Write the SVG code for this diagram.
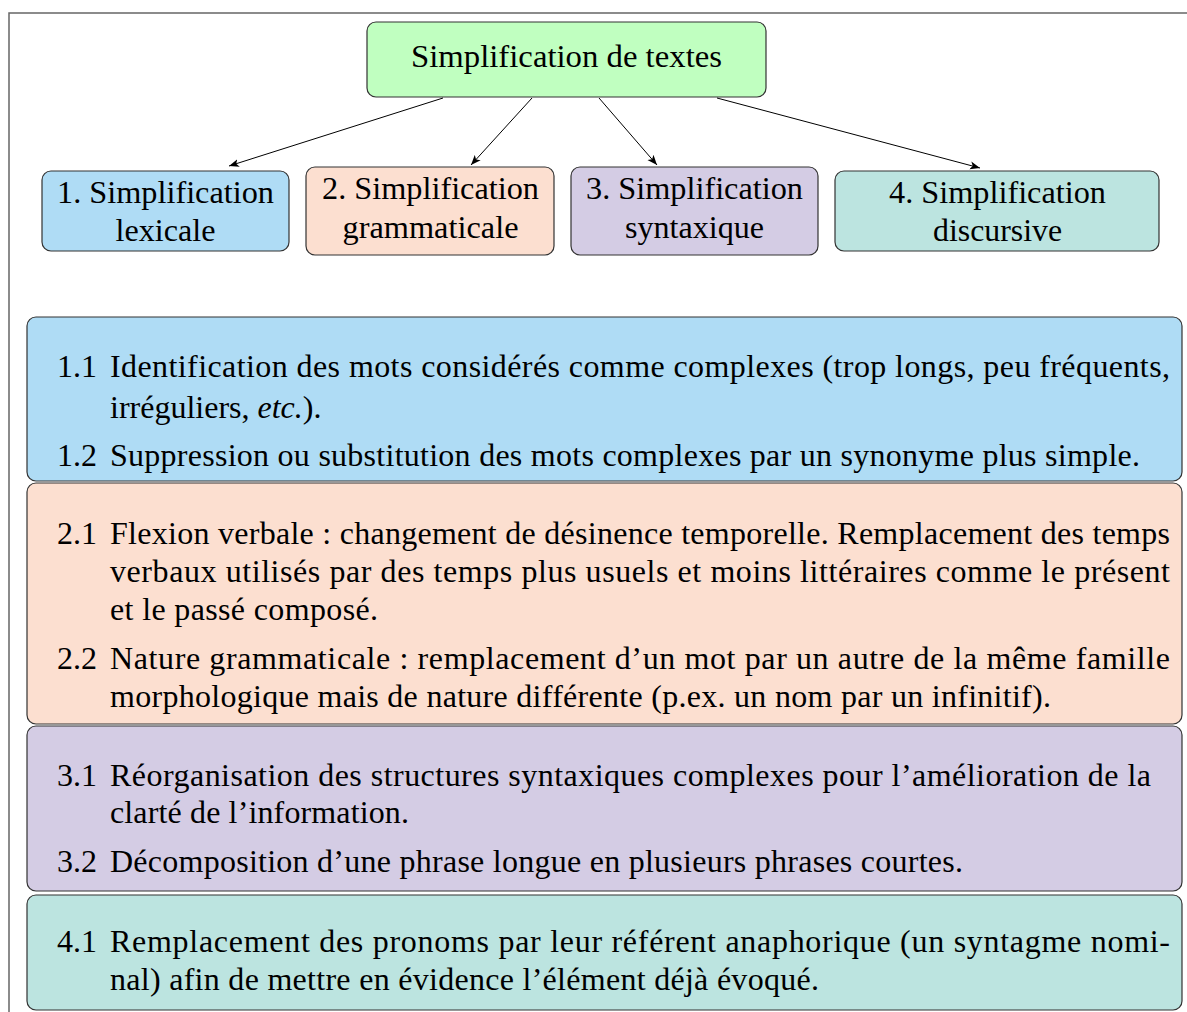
<svg xmlns="http://www.w3.org/2000/svg" width="1187" height="1012" viewBox="0 0 1187 1012" font-family="'Liberation Serif', 'Times New Roman', serif">
<style>
text{font-family:'Liberation Serif','Times New Roman',Times,serif;font-size:32px;fill:#000}
.box{stroke:#333;stroke-width:1.2}
.frame{stroke:#666;stroke-width:1.5;fill:none}
.edge{stroke:#000;stroke-width:1;fill:none;marker-end:url(#arr)}
.c{text-anchor:middle}
</style>
<defs>
<marker id="arr" viewBox="0 0 10 10" refX="10" refY="5" markerWidth="10" markerHeight="10" markerUnits="userSpaceOnUse" orient="auto">
<path d="M0,1 L10,5 L0,9 L2.5,5 Z" fill="#000"/>
</marker>
</defs>
<rect width="1187" height="1012" fill="#fff"/>
<path class="frame" d="M9,1012 V13 H1187"/>

<g id="root">
<rect class="box" x="367" y="22" width="399" height="75" rx="9" fill="#c0ffc0"/>
<text class="c" x="566.5" y="67" textLength="311" lengthAdjust="spacingAndGlyphs">Simplification de textes</text>
</g>

<g id="n1">
<rect class="box" x="42" y="171" width="247" height="80" rx="9" fill="#afdcf5"/>
<text class="c" x="165.5" y="203" textLength="217" lengthAdjust="spacingAndGlyphs">1. Simplification</text>
<text class="c" x="165.5" y="241" textLength="100" lengthAdjust="spacingAndGlyphs">lexicale</text>
</g>
<g id="n2">
<rect class="box" x="306" y="167" width="248" height="88" rx="9" fill="#fcdfd0"/>
<text class="c" x="430.5" y="199" textLength="217" lengthAdjust="spacingAndGlyphs">2. Simplification</text>
<text class="c" x="430.5" y="238" textLength="176" lengthAdjust="spacingAndGlyphs">grammaticale</text>
</g>
<g id="n3">
<rect class="box" x="571" y="167" width="247" height="88" rx="9" fill="#d4cce4"/>
<text class="c" x="694.5" y="199" textLength="217" lengthAdjust="spacingAndGlyphs">3. Simplification</text>
<text class="c" x="694.5" y="238" textLength="139" lengthAdjust="spacingAndGlyphs">syntaxique</text>
</g>
<g id="n4">
<rect class="box" x="835" y="171" width="324" height="80" rx="9" fill="#bce4e0"/>
<text class="c" x="997.5" y="203" textLength="217" lengthAdjust="spacingAndGlyphs">4. Simplification</text>
<text class="c" x="997.5" y="241" textLength="129" lengthAdjust="spacingAndGlyphs">discursive</text>
</g>

<g id="connectors">
<line class="edge" x1="443" y1="98" x2="229" y2="166"/>
<line class="edge" x1="532" y1="98" x2="471" y2="165"/>
<line class="edge" x1="599" y1="98" x2="657" y2="165"/>
<line class="edge" x1="717" y1="98" x2="980" y2="168"/>
</g>

<g id="d1">
<rect class="box" x="27" y="317" width="1155" height="164" rx="9" fill="#afdcf5"/>
<text x="57" y="377">1.1</text>
<text x="110" y="377" textLength="1060" lengthAdjust="spacing">Identification des mots considérés comme complexes (trop longs, peu fréquents,</text>
<text x="110" y="418">irréguliers, <tspan font-style="italic">etc.</tspan>).</text>
<text x="57" y="466">1.2</text>
<text x="110" y="466" textLength="1030" lengthAdjust="spacing">Suppression ou substitution des mots complexes par un synonyme plus simple.</text>
</g>

<g id="d2">
<rect class="box" x="27" y="483" width="1155" height="241" rx="9" fill="#fcdfd0"/>
<text x="57" y="544">2.1</text>
<text x="110" y="544" textLength="1060" lengthAdjust="spacing">Flexion verbale : changement de désinence temporelle. Remplacement des temps</text>
<text x="110" y="582" textLength="1060" lengthAdjust="spacing">verbaux utilisés par des temps plus usuels et moins littéraires comme le présent</text>
<text x="110" y="620" textLength="268" lengthAdjust="spacing">et le passé composé.</text>
<text x="57" y="669">2.2</text>
<text x="110" y="669" textLength="1060" lengthAdjust="spacing">Nature grammaticale : remplacement d’un mot par un autre de la même famille</text>
<text x="110" y="707" textLength="941" lengthAdjust="spacing">morphologique mais de nature différente (p.ex. un nom par un infinitif).</text>
</g>

<g id="d3">
<rect class="box" x="27" y="726" width="1155" height="165" rx="9" fill="#d4cce4"/>
<text x="57" y="786">3.1</text>
<text x="110" y="786" textLength="1041" lengthAdjust="spacing">Réorganisation des structures syntaxiques complexes pour l’amélioration de la</text>
<text x="110" y="823" textLength="299" lengthAdjust="spacing">clarté de l’information.</text>
<text x="57" y="872">3.2</text>
<text x="110" y="872" textLength="853" lengthAdjust="spacing">Décomposition d’une phrase longue en plusieurs phrases courtes.</text>
</g>

<g id="d4">
<rect class="box" x="27" y="895" width="1155" height="115" rx="9" fill="#bce4e0"/>
<text x="57" y="952">4.1</text>
<text x="110" y="952" textLength="1060" lengthAdjust="spacing">Remplacement des pronoms par leur référent anaphorique (un syntagme nomi-</text>
<text x="110" y="990" textLength="709" lengthAdjust="spacing">nal) afin de mettre en évidence l’élément déjà évoqué.</text>
</g>
</svg>
